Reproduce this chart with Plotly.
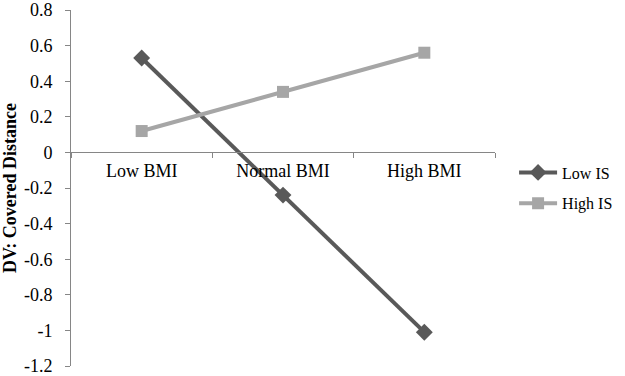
import plotly.graph_objects as go

categories = ["Low BMI", "Normal BMI", "High BMI"]
low_is = [0.53, -0.24, -1.01]
high_is = [0.12, 0.34, 0.56]
y_ticks = [0.8, 0.6, 0.4, 0.2, 0, -0.2, -0.4, -0.6, -0.8, -1, -1.2]
y_tick_labels = ["0.8", "0.6", "0.4", "0.2", "0", "-0.2", "-0.4", "-0.6", "-0.8", "-1", "-1.2"]

FONT = "Liberation Serif, Times New Roman, serif"

fig = go.Figure()
fig.add_trace(go.Scatter(
    x=categories, y=low_is, name="Low IS", mode="lines+markers",
    line=dict(color="#595959", width=4),
    marker=dict(symbol="diamond", size=13, color="#595959"),
    legendgroup="a",
))
fig.add_trace(go.Scatter(
    x=categories, y=high_is, name="High IS", mode="lines+markers",
    line=dict(color="#A6A6A6", width=4),
    marker=dict(symbol="square", size=12, color="#A6A6A6"),
    legendgroup="b",
))

y_min, y_max = -1.2, 0.8
eps = 1e-6
fig.update_layout(
    width=625, height=376,
    margin=dict(l=71, r=130, t=10, b=10, autoexpand=False),
    paper_bgcolor="white", plot_bgcolor="white",
    font=dict(family=FONT, size=18, color="black"),
    showlegend=True,
    legend=dict(
        x=1.045, xanchor="left", y=0.5, yanchor="middle",
        font=dict(family=FONT, size=16, color="black"),
        tracegroupgap=7, itemwidth=38,
        bgcolor="rgba(0,0,0,0)",
    ),
    xaxis=dict(
        type="category", range=[-0.5, 2.5],
        anchor="free", position=(0 - y_min) / (y_max - y_min),
        showline=True, linecolor="#868686", linewidth=1,
        ticks="outside", tickson="boundaries", ticklen=5, tickcolor="#868686",
        showgrid=False, zeroline=False, automargin=False,
        ticklabelstandoff=2,
        tickfont=dict(family=FONT, size=18, color="black"),
    ),
    yaxis=dict(
        range=[y_min - eps, y_max + eps],
        tickmode="array", tickvals=y_ticks, ticktext=y_tick_labels,
        showline=True, linecolor="#868686", linewidth=1,
        ticks="outside", ticklen=5, tickcolor="#868686",
        showgrid=False, zeroline=False, automargin=False,
        ticklabelstandoff=9, ticklabeloverflow="allow",
        tickfont=dict(family=FONT, size=18, color="black"),
        title=dict(text="<b>DV: Covered Distance</b>", standoff=3,
                   font=dict(family=FONT, size=18, color="black")),
    ),
)

# Remove the browser's default 8px page margin so the figure fills the window.
fig.write_html("out.html", config={"displayModeBar": False},
               post_script="document.body.style.margin='0';")
